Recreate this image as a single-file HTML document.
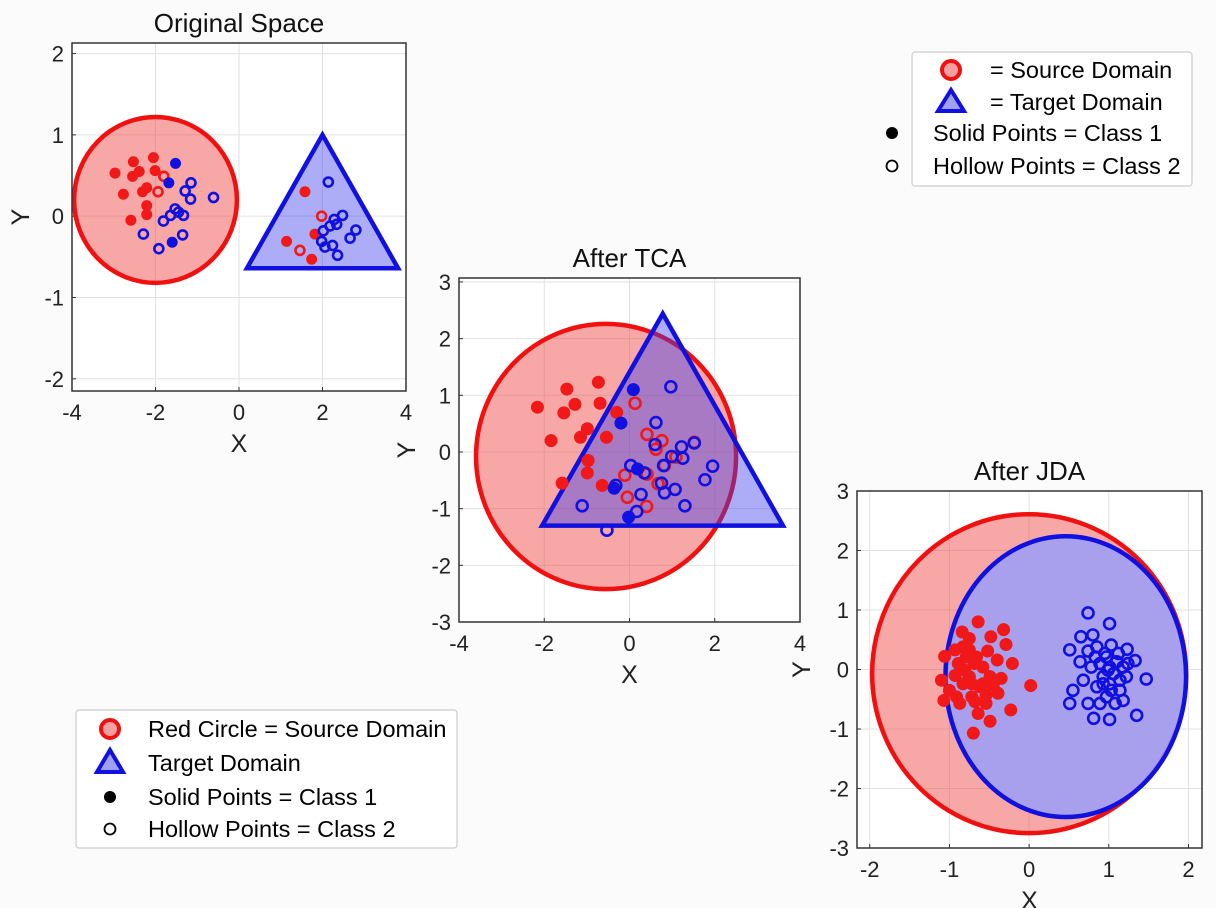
<!DOCTYPE html>
<html><head><meta charset="utf-8"><style>
body{margin:0;background:#fbfbfb;}
svg{display:block;font-family:"Liberation Sans",sans-serif;}
</style></head><body>
<svg id="fig" width="1216" height="908" viewBox="0 0 1216 908">
<rect x="0" y="0" width="1216" height="908" fill="#fbfbfb"/>
<g id="legend1">
 <rect x="912" y="52" width="280" height="134" rx="3" fill="#fff" stroke="#ccc" stroke-width="1.2"/>
 <circle cx="951" cy="70" r="9" fill="#f4a0a0" stroke="#f01010" stroke-width="4"/>
 <text x="990" y="78" font-size="23.5">= Source Domain</text>
 <polygon points="951,90 938,111 964,111" fill="#a0a0f0" stroke="#1010e0" stroke-width="4" stroke-linejoin="miter"/>
 <text x="990" y="110" font-size="23.5">= Target Domain</text>
 <circle cx="892" cy="133" r="6" fill="#000"/>
 <text x="933" y="141" font-size="23.5">Solid Points = Class 1</text>
 <circle cx="892" cy="166" r="5.5" fill="#fff" stroke="#000" stroke-width="1.8"/>
 <text x="933" y="174" font-size="23.5">Hollow Points = Class 2</text>
</g>
<g id="legend2">
 <rect x="76" y="710" width="381" height="138" rx="3" fill="#fff" stroke="#ccc" stroke-width="1.2"/>
 <circle cx="110" cy="729" r="9" fill="#f4a0a0" stroke="#f01010" stroke-width="4"/>
 <text x="148" y="737" font-size="23.5">Red Circle = Source Domain</text>
 <polygon points="110,750 97,772 123,772" fill="#a0a0f0" stroke="#1010e0" stroke-width="4"/>
 <text x="148" y="771" font-size="23.5">Target Domain</text>
 <circle cx="110" cy="797" r="6" fill="#000"/>
 <text x="148" y="805" font-size="23.5">Solid Points = Class 1</text>
 <circle cx="110" cy="829" r="5.5" fill="#fff" stroke="#000" stroke-width="1.8"/>
 <text x="148" y="837" font-size="23.5">Hollow Points = Class 2</text>
</g>
</svg>
<script>
// ---- Plot 1: Original Space ----
const p1XTicks=[-4,-2,0,2,4];
const p1YTicks=[-2,-1,0,1,2];
const p1Circle=[-2,0.2,1.95,1.02];
const p1Tri=[[2,1.0],[0.19,-0.64],[3.81,-0.64]];
const p1RedSolid=[[-2.97,0.53],[-2.53,0.67],[-2.55,0.49],[-2.39,0.55],[-2.05,0.72],[-2.01,0.56],[-2.77,0.27],[-2.31,0.30],[-2.21,0.35],[-2.21,0.13],[-2.21,0.02],[-2.59,-0.05],[1.58,0.30],[1.14,-0.31],[1.82,-0.22],[1.74,-0.53]];
const p1RedHollow=[[-1.80,0.49],[-1.94,0.30],[1.98,0.0],[1.46,-0.42]];
const p1BlueSolid=[[-1.52,0.65],[-1.68,0.41],[-1.60,-0.32]];
const p1BlueHollow=[[-1.15,0.41],[-1.29,0.31],[-1.16,0.21],[-0.61,0.23],[-1.53,0.09],[-1.64,0.01],[-1.81,-0.06],[-1.45,0.05],[-1.33,0.01],[-2.29,-0.22],[-1.35,-0.23],[-1.92,-0.40],[2.14,0.42],[2.48,0.01],[2.28,-0.04],[2.34,-0.10],[2.18,-0.12],[2.02,-0.18],[2.80,-0.17],[2.66,-0.27],[1.98,-0.31],[2.24,-0.36],[2.06,-0.38],[2.36,-0.48]];
// ---- Plot 2: After TCA ----
const p2XTicks=[-4,-2,0,2,4];
const p2YTicks=[-3,-2,-1,0,1,2,3];
const p2Circle=[-0.55,-0.08,3.05,2.34];
const p2Tri=[[0.78,2.44],[-2.05,-1.30],[3.6,-1.30]];
const p2RedSolid=[[-2.16,0.79],[-1.47,1.11],[-1.54,0.69],[-1.28,0.84],[-0.73,1.23],[-0.69,0.86],[-0.30,0.70],[-1.84,0.20],[-0.99,0.41],[-1.15,0.26],[-0.54,0.26],[-0.97,-0.15],[-0.99,-0.37],[-1.58,-0.55],[-0.64,-0.59]];
const p2RedHollow=[[0.13,0.86],[0.41,0.31],[0.76,0.20],[0.62,0.05],[1.09,-0.09],[0.82,-0.24],[0.41,-0.39],[-0.11,-0.41],[0.67,-0.56],[-0.05,-0.80],[0.40,-0.96],[1.52,0.17]];
const p2BlueSolid=[[0.09,1.10],[-0.20,0.51],[0.19,-0.30],[-0.36,-0.64],[-0.02,-1.15]];
const p2BlueHollow=[[0.97,1.15],[0.62,0.52],[0.60,0.13],[1.22,0.09],[1.52,0.16],[0.99,-0.08],[1.25,-0.11],[0.03,-0.24],[0.80,-0.24],[1.95,-0.25],[1.77,-0.49],[0.35,-0.37],[0.75,-0.55],[0.82,-0.72],[1.07,-0.66],[-0.32,-0.59],[0.27,-0.75],[-1.11,-0.95],[1.30,-0.95],[0.17,-1.05],[-0.53,-1.38]];
// ---- Plot 3: After JDA ----
const p3XTicks=[-2,-1,0,1,2];
const p3YTicks=[-3,-2,-1,0,1,2,3];
const p3RedEllipse=[0.0,-0.07,1.97,2.68];
const p3BlueEllipse=[0.46,-0.12,1.51,2.36];
const p3RedSolid=[[-0.64,0.80],[-0.84,0.63],[-0.32,0.67],[-0.75,0.52],[-0.48,0.55],[-0.29,0.42],[-0.93,0.33],[-0.75,0.33],[-0.52,0.31],[-1.06,0.22],[-0.89,0.10],[-0.40,0.16],[-0.21,0.10],[-0.69,0.10],[-0.58,0.04],[-0.81,-0.01],[-1.10,-0.18],[-0.93,-0.10],[-0.75,-0.12],[-0.49,-0.12],[-0.35,-0.15],[0.02,-0.27],[-1.07,-0.52],[-0.91,-0.46],[-0.72,-0.46],[-0.54,-0.43],[-0.39,-0.40],[-0.87,-0.57],[-0.68,-0.54],[-0.54,-0.57],[-0.23,-0.68],[-0.64,-0.74],[-0.49,-0.87],[-0.70,-1.07],[-0.83,-0.24],[-0.62,-0.29],[-0.45,-0.26],[-1.00,-0.35],[-0.79,0.21],[-0.66,0.21],[-0.58,-0.24],[-0.72,-0.24],[-0.83,0.38]];
const p3BlueHollow=[[0.74,0.95],[1.01,0.77],[0.65,0.55],[0.80,0.58],[0.51,0.33],[0.74,0.31],[1.03,0.41],[1.23,0.34],[0.64,0.13],[1.33,0.15],[1.47,-0.16],[0.55,-0.35],[0.51,-0.57],[0.74,-0.57],[0.81,-0.82],[1.01,-0.84],[1.35,-0.77],[1.18,-0.52],[0.68,-0.18],[0.85,-0.29],[1.01,-0.24],[1.14,-0.35],[1.22,-0.12],[0.89,0.10],[1.01,0.04],[1.12,0.27],[0.95,0.27],[0.85,0.38],[1.18,0.04],[1.06,-0.07],[0.93,-0.12],[0.78,0.04],[0.97,-0.46],[0.89,-0.57],[1.08,-0.57],[1.24,0.10],[1.14,-0.18],[0.97,0.21],[1.10,0.13],[0.83,0.21],[0.99,-0.01],[0.93,-0.24],[1.03,-0.35]];

const NS='http://www.w3.org/2000/svg';
const fig=document.getElementById('fig');
const leg=document.getElementById('legend1');
function mk(tag,attrs,parent){const e=document.createElementNS(NS,tag);for(const k in attrs)e.setAttribute(k,attrs[k]);(parent||fig).appendChild(e);return e;}

function makeAxes(cfg){
  const g=mk('g',{});
  
  
  fig.insertBefore(g,leg);
  const sx=v=>cfg.L+(v-cfg.xmin)/(cfg.xmax-cfg.xmin)*(cfg.R-cfg.L);
  const sy=v=>cfg.B-(v-cfg.ymin)/(cfg.ymax-cfg.ymin)*(cfg.B-cfg.T);
  mk('rect',{x:cfg.L,y:cfg.T,width:cfg.R-cfg.L,height:cfg.B-cfg.T,fill:'#fff'},g);
  cfg.xt.forEach(v=>{
    const l=mk('line',{x1:sx(v),x2:sx(v),y1:cfg.T,y2:cfg.B,stroke:'#e2e2e2','stroke-width':1},g);
    
    
    mk('line',{x1:sx(v),x2:sx(v),y1:cfg.B,y2:cfg.B-4,stroke:'#333','stroke-width':1},g);
    const t=mk('text',{x:sx(v),y:cfg.B+29,'font-size':22,'text-anchor':'middle',fill:'#222'},g);
    t.textContent=v;
    
    
  });
  cfg.yt.forEach(v=>{
    const l=mk('line',{x1:cfg.L,x2:cfg.R,y1:sy(v),y2:sy(v),stroke:'#e2e2e2','stroke-width':1},g);
    
    
    mk('line',{x1:cfg.L,x2:cfg.L+4,y1:sy(v),y2:sy(v),stroke:'#333','stroke-width':1},g);
    const t=mk('text',{x:cfg.L-8,y:sy(v)+8,'font-size':22,'text-anchor':'end',fill:'#222'},g);
    t.textContent=v;
    
    
  });
  const tt=mk('text',{x:(cfg.L+cfg.R)/2,y:cfg.T-11,'font-size':26,'text-anchor':'middle',fill:'#111'},g);
  tt.textContent=cfg.title;
  
  
  const xl=mk('text',{x:(cfg.L+cfg.R)/2,y:cfg.B+61,'font-size':25,'text-anchor':'middle',fill:'#222'},g);
  xl.textContent='X';
  
  
  const yx=cfg.ylabX, yy=(cfg.T+cfg.B)/2;
  const yl=mk('text',{x:yx,y:yy,'font-size':25,'text-anchor':'middle',fill:'#222',transform:`rotate(-90 ${yx} ${yy})`},g);
  yl.textContent='Y';
  
  
  const clipId='clip'+cfg.name;
  const cp=mk('clipPath',{id:clipId},g);
  mk('rect',{x:cfg.L,y:cfg.T,width:cfg.R-cfg.L,height:cfg.B-cfg.T},cp);
  const plot=mk('g',{'clip-path':`url(#${clipId})`},g);
  const frame=()=>mk('rect',{x:cfg.L,y:cfg.T,width:cfg.R-cfg.L,height:cfg.B-cfg.T,fill:'none',stroke:'#333','stroke-width':1.5},g);
  return {sx,sy,plot,frame};
}
function ellipse(ax,e,fill,stroke,name){
  const el=mk('ellipse',{cx:ax.sx(e[0]),cy:ax.sy(e[1]),rx:Math.abs(ax.sx(e[0]+e[2])-ax.sx(e[0])),ry:Math.abs(ax.sy(e[1]+e[3])-ax.sy(e[1])),fill:fill,stroke:stroke,'stroke-width':4.5},ax.plot);
  
  
}
function tri(ax,pts,name){
  const el=mk('polygon',{points:pts.map(p=>ax.sx(p[0])+','+ax.sy(p[1])).join(' '),fill:'rgba(60,60,235,0.42)',stroke:'#1010e0','stroke-width':4.5,'stroke-linejoin':'miter'},ax.plot);
  
  
}
function pts(ax,arr,color,solid,r,name){
  arr.forEach(p=>{
    const c=mk('circle',{cx:ax.sx(p[0]),cy:ax.sy(p[1]),r:solid?r:r-1,fill:solid?color:'none',stroke:color,'stroke-width':solid?0:2.6},ax.plot);
    
    
  });
}
const RF='rgba(240,60,60,0.45)', RS='#f01010', BS='#1010e0';

const a1=makeAxes({name:'original-space-plot',title:'Original Space',L:72,R:406,T:43,B:391,xmin:-4,xmax:4,ymin:-2.15,ymax:2.13,xt:p1XTicks,yt:p1YTicks,ylabX:29});
ellipse(a1,p1Circle,RF,RS,'source-domain-circle');
tri(a1,p1Tri,'target-domain-triangle');
pts(a1,p1RedSolid,'#f01818',true,5.5,'source-class1-point');
pts(a1,p1RedHollow,'#f01818',false,5.5,'source-class2-point');
pts(a1,p1BlueSolid,'#1010e0',true,5.5,'target-class1-point');
pts(a1,p1BlueHollow,'#1010e0',false,5.5,'target-class2-point');
a1.frame();

const a2=makeAxes({name:'after-tca-plot',title:'After TCA',L:459,R:800,T:278,B:622,xmin:-4,xmax:4,ymin:-3,ymax:3.07,xt:p2XTicks,yt:p2YTicks,ylabX:415});
ellipse(a2,p2Circle,RF,RS,'source-domain-circle');
tri(a2,p2Tri,'target-domain-triangle');
pts(a2,p2RedSolid,'#f01818',true,6.5,'source-class1-point');
pts(a2,p2RedHollow,'#f01818',false,6.5,'source-class2-point');
pts(a2,p2BlueSolid,'#1010e0',true,6.5,'target-class1-point');
pts(a2,p2BlueHollow,'#1010e0',false,6.5,'target-class2-point');
a2.frame();

const a3=makeAxes({name:'after-jda-plot',title:'After JDA',L:857,R:1202,T:491,B:848,xmin:-2.16,xmax:2.17,ymin:-3,ymax:3,xt:p3XTicks,yt:p3YTicks,ylabX:810});
ellipse(a3,p3RedEllipse,RF,RS,'source-domain-ellipse');
ellipse(a3,p3BlueEllipse,'rgba(160,160,245,0.9)',BS,'target-domain-ellipse');
pts(a3,p3RedSolid,'#f01818',true,6.5,'source-class1-point');
pts(a3,p3BlueHollow,'#1010e0',false,6.5,'target-class2-point');
a3.frame();
</script>
</body></html>
